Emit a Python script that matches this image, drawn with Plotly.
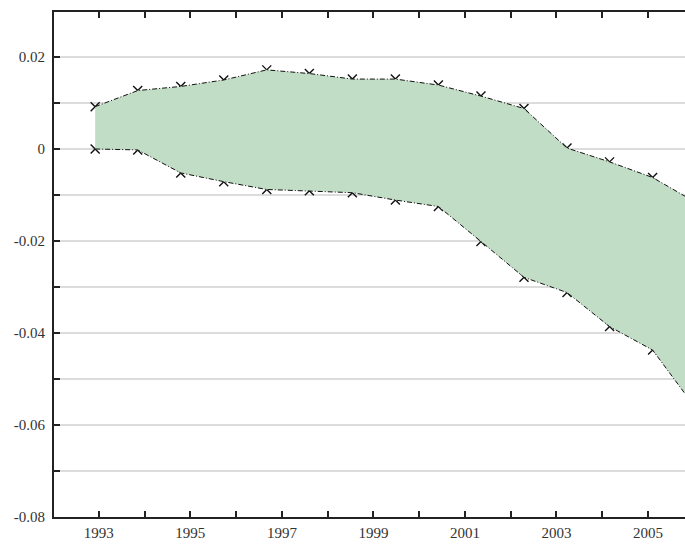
import plotly.graph_objects as go

# Data
years = [1992.92, 1993.85, 1994.79, 1995.73, 1996.67, 1997.60, 1998.54,
         1999.48, 2000.42, 2001.35, 2002.29, 2003.23, 2004.16, 2005.10, 2006.04]
upper = [0.0092, 0.0127, 0.0136, 0.0150, 0.0172, 0.0164, 0.0152,
         0.0152, 0.0139, 0.0115, 0.0088, 0.0002, -0.0028, -0.0062, -0.0116]
lower = [0.0000, -0.0002, -0.0052, -0.0071, -0.0088, -0.0091, -0.0095,
         -0.0111, -0.0125, -0.0201, -0.0279, -0.0312, -0.0386, -0.0437, -0.0563]

x_tick_vals = list(range(1993, 2006))
x_tick_text = [str(y) if y % 2 == 1 else "" for y in x_tick_vals]
y_tick_vals = [-0.08, -0.07, -0.06, -0.05, -0.04, -0.03, -0.02, -0.01, 0.0, 0.01, 0.02]
y_tick_text = ["-0.08", "", "-0.06", "", "-0.04", "", "-0.02", "", "0", "", "0.02"]

FILL = "#c2ddc6"
INK = "#111111"
AXIS = "#222222"
FONT = "Liberation Serif"

fig = go.Figure()

# markers first (fill covers their inner halves)
for s in (upper, lower):
    fig.add_trace(go.Scatter(
        x=years, y=s, mode="markers",
        marker=dict(symbol="x-thin", size=9, color=INK, line=dict(width=1.4, color=INK)),
        hoverinfo="skip", showlegend=False))

# band fill
fig.add_trace(go.Scatter(
    x=years + years[::-1], y=upper + lower[::-1],
    mode="lines", fill="toself", fillcolor=FILL,
    line=dict(width=0, color=FILL), hoverinfo="skip", showlegend=False))

# dash-dot boundary lines
for s in (upper, lower):
    fig.add_trace(go.Scatter(
        x=years, y=s, mode="lines",
        line=dict(color=INK, width=1, dash="5px,2px,1px,2px"),
        hoverinfo="skip", showlegend=False))

fig.update_layout(
    width=685, height=544,
    margin=dict(l=54, r=0, t=12, b=27),
    paper_bgcolor="white", plot_bgcolor="white",
    font=dict(family=FONT, size=15, color="#333333"),
    showlegend=False,
)
fig.update_xaxes(
    range=[1992.021, 2005.808],
    tickvals=x_tick_vals, ticktext=x_tick_text,
    ticks="inside", ticklen=6, tickwidth=2, tickcolor=AXIS,
    showline=True, linecolor=AXIS, linewidth=2, mirror="ticks",
    showgrid=False, zeroline=False, ticklabelstandoff=1,
)
fig.update_yaxes(
    range=[-0.08, 0.02978],
    tickvals=y_tick_vals, ticktext=y_tick_text,
    ticks="inside", ticklen=6, tickwidth=2, tickcolor=AXIS,
    showline=True, linecolor=AXIS, linewidth=2,
    showgrid=True, gridcolor="#dcdcdc", gridwidth=1.5,
    zeroline=False, ticklabelstandoff=4,
)

fig.write_html("out.html")
